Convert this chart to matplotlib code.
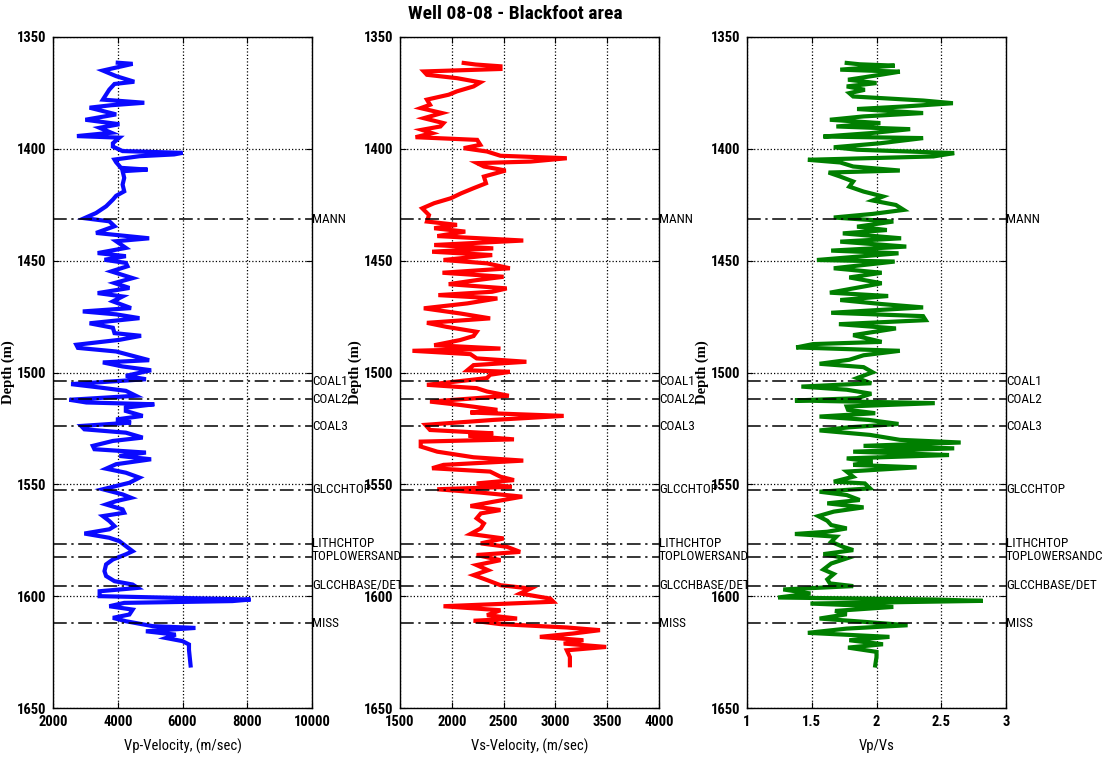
import matplotlib
matplotlib.use('Agg')
import matplotlib.pyplot as plt

narrow = ['Roboto Condensed', 'Liberation Sans Narrow', 'Liberation Sans', 'DejaVu Sans']

# formation tops (m)
tops = ['MANN', 'COAL1', 'COAL2', 'COAL3', 'GLCCHTOP', 'LITHCHTOP',
        'TOPLOWERSANDC', 'GLCCHBASE/DET', 'MISS']
top_depth = [1431.5, 1504, 1512, 1524, 1552.5, 1576.6, 1582.3, 1595.3, 1612]

# Vp log
vp_depth = [1361.5, 1362, 1363, 1365, 1367.5, 1370, 1371, 1373.5, 1378, 1379.4, 1380.5, 1381.6,
            1384.6, 1387, 1389, 1390.6, 1392.8, 1394.3, 1395, 1397.5, 1399, 1401, 1401.8, 1402.5,
            1403.3, 1404.8, 1406, 1408.5, 1409.3, 1410, 1413, 1416, 1419, 1421, 1422.7, 1425.7,
            1428.7, 1431, 1432.4, 1434.6, 1437.6, 1440, 1441.3, 1444.3, 1446.6, 1448, 1449.6, 1451,
            1452.5, 1454.8, 1457.8, 1460, 1462.2, 1464.5, 1466, 1468.2, 1471.2, 1472.7, 1474, 1475.7,
            1478, 1480, 1482.4, 1483.6, 1485.4, 1487.6, 1489, 1490.6, 1494.5, 1495.5, 1497.3, 1499,
            1501.5, 1503, 1505.2, 1506.7, 1508.2, 1510.4, 1512.2, 1513.4, 1514.2, 1515.7, 1517.2, 1519.4,
            1521, 1522.4, 1523.9, 1525.4, 1526.9, 1529.1, 1530.6, 1532.8, 1534.3, 1535.8, 1537.3, 1538.8,
            1541, 1543, 1544.8, 1547, 1549.3, 1552.2, 1554.5, 1556, 1557.5, 1559, 1561.2, 1562.7,
            1564.2, 1566.4, 1568.7, 1570.1, 1572, 1573.9, 1575.4, 1577.6, 1579.9, 1581.3, 1583.6, 1585.8,
            1588.8, 1591, 1593.3, 1594.8, 1596.3, 1597.8, 1600, 1601.5, 1602.2, 1603, 1604.5, 1606,
            1608.2, 1609.7, 1611.2, 1613.4, 1614.2, 1615.7, 1617.2, 1618.7, 1620.1, 1621.6, 1624, 1631]
vp = [4000, 4460, 4150, 3540, 3950, 4510, 3900, 3740, 3540, 4820, 3800, 3130,
      3950, 3000, 4050, 3440, 3800, 2740, 4050, 3850, 3850, 4150, 6000, 5740,
      4670, 3900, 3950, 4100, 4920, 4150, 4200, 4150, 4200, 3950, 3850, 3640,
      3330, 2970, 3740, 3900, 3330, 4970, 3950, 4250, 3380, 4250, 3590, 4250,
      4300, 3800, 4460, 3900, 4360, 3380, 4150, 3850, 4410, 2920, 3950, 4670,
      3130, 3850, 3900, 4720, 4050, 2720, 2770, 3950, 4970, 3540, 4150, 5030,
      4250, 4870, 2560, 3440, 4250, 4560, 2510, 3030, 5130, 4250, 4250, 4770,
      3950, 4410, 2870, 2970, 4250, 4770, 3850, 3230, 3280, 4870, 4050, 5030,
      3950, 3640, 4250, 4670, 4360, 3540, 4150, 4410, 3950, 3640, 4150, 4200,
      3540, 3740, 3900, 3740, 2970, 3740, 4050, 4250, 4460, 4250, 3850, 3640,
      3590, 3640, 3900, 4460, 4620, 3440, 3440, 8100, 7540, 4200, 3740, 4460,
      4360, 3850, 4250, 5080, 6400, 4870, 5790, 5490, 6000, 6200, 6200, 6250]

# Vs log
vs_depth = [1361.6, 1362.3, 1363.1, 1364.3, 1365.4, 1366.9, 1368.4, 1370.3, 1372.1, 1374.3, 1375.8, 1378,
            1380.3, 1381.8, 1384, 1386.3, 1388.5, 1390, 1391.5, 1393, 1394.8, 1396, 1398.2, 1399.7,
            1401.2, 1403.1, 1404.2, 1405.7, 1406.4, 1407.9, 1409.7, 1412.4, 1415.4, 1417.6, 1419.9, 1422.1,
            1424.3, 1426.6, 1429.6, 1432.5, 1434, 1435.5, 1437, 1439, 1441, 1443, 1444.5, 1446,
            1447.5, 1449.7, 1451.2, 1453.4, 1455.4, 1457.2, 1458.7, 1460.5, 1462.4, 1463.9, 1465.4, 1466.9,
            1469.1, 1471.3, 1473.6, 1475.8, 1477.8, 1479.6, 1481.8, 1483.7, 1485.5, 1487.8, 1489.3, 1490.3,
            1491.8, 1493.7, 1495.2, 1496.7, 1499, 1499.7, 1501, 1502.5, 1505.5, 1507, 1508.5, 1510.4,
            1513, 1514.5, 1516.7, 1517.9, 1519.4, 1521.2, 1523.4, 1525.7, 1527.2, 1528.3, 1529.9, 1530.9,
            1533.1, 1535.4, 1537.9, 1539.4, 1541.3, 1542.8, 1544.3, 1546.6, 1548.1, 1549.6, 1551.1, 1552.2,
            1553.7, 1555.5, 1557.8, 1559.7, 1561.5, 1563, 1565.2, 1567.5, 1569.7, 1572.2, 1574.2, 1576.4,
            1577.9, 1580.2, 1581.6, 1583.9, 1586.1, 1588.4, 1590.6, 1592.8, 1595.1, 1596.6, 1598.8, 1601.1,
            1602.5, 1604.5, 1606.3, 1608.5, 1610, 1611, 1612.5, 1614, 1615.2, 1616.7, 1618.2, 1619.7,
            1621.2, 1622.7, 1624.2, 1627.2, 1630.9]
vs = [2115, 2230, 2470, 2470, 1730, 1760, 2050, 2275, 2210, 2050, 1970, 1760,
      1790, 1700, 1905, 1730, 1920, 1890, 1710, 1810, 1650, 2245, 2275, 2115,
      2340, 2470, 3110, 2760, 2245, 2310, 2520, 2310, 2330, 2210, 2090, 1990,
      1830, 1715, 1780, 1760, 2050, 1830, 2130, 1860, 2690, 1830, 2400, 1810,
      2390, 1920, 2340, 2560, 1910, 2500, 2240, 1970, 2530, 2390, 1870, 2440,
      2150, 1730, 2080, 2370, 1760, 1950, 2240, 2210, 2080, 1830, 2470, 1620,
      2180, 2240, 2720, 2210, 2150, 2560, 2370, 2340, 1760, 2240, 2340, 2550,
      1790, 2080, 2440, 2180, 3080, 2400, 1745, 1790, 2400, 2160, 2600, 1700,
      1700, 1860, 2210, 2690, 1920, 1810, 2370, 2470, 2600, 2240, 2580, 1860,
      2280, 2680, 2400, 2180, 2470, 2280, 2240, 2310, 2280, 2180, 2500, 2280,
      2530, 2660, 2240, 2470, 2240, 2350, 2210, 2340, 2470, 2760, 2660, 2950,
      2980, 1920, 2470, 2340, 2630, 2210, 2470, 3110, 3430, 3170, 2850, 3270,
      3080, 3490, 3110, 3140, 3140]

# Vp/Vs ratio
vr_depth = [1361.6, 1362.2, 1362.8, 1364.6, 1365.5, 1366.9, 1369.1, 1370.6, 1372.1, 1373.6, 1375.1, 1376.6,
            1378.4, 1379.6, 1381, 1382.2, 1384, 1385.5, 1387, 1388.5, 1390, 1391.2, 1393, 1394.5,
            1395.2, 1397.5, 1399.3, 1400.4, 1401.9, 1403.4, 1404.9, 1406.1, 1407.9, 1409.7, 1410.6, 1412.4,
            1414.6, 1416.9, 1419.1, 1421.3, 1423.1, 1425.1, 1427.3, 1429.1, 1430.7, 1432.5, 1434.8, 1436.3,
            1437.8, 1440, 1441.5, 1443.7, 1445.5, 1446.7, 1449.7, 1450.4, 1453.4, 1455.4, 1457.5, 1460.1,
            1462.4, 1464.3, 1465.8, 1467.6, 1469.4, 1470.9, 1473.3, 1474.8, 1476.6, 1478.4, 1480.3, 1483.3,
            1486.3, 1487.3, 1488.8, 1490.3, 1492.3, 1494.3, 1496.1, 1497.6, 1499.9, 1502.5, 1504.8, 1506.3,
            1507.7, 1509.5, 1511.5, 1512.5, 1513.7, 1515.2, 1516.7, 1518.2, 1519.7, 1521.2, 1523, 1524.5,
            1525.9, 1527.9, 1530.1, 1531.3, 1532.8, 1533.9, 1535.4, 1536.9, 1538.4, 1539.9, 1541.3, 1542.4,
            1544.3, 1546.6, 1548.8, 1549.6, 1551.8, 1553.3, 1554.8, 1557, 1558.5, 1560.3, 1562.2, 1564.2,
            1566.3, 1568.2, 1569.7, 1571.2, 1572.2, 1573.4, 1575.7, 1577.9, 1579.4, 1581.2, 1583.1, 1585.4,
            1588.1, 1590.1, 1592.5, 1594.3, 1595.5, 1597, 1598.8, 1600.6, 1601.5, 1602.1, 1603.3, 1604.8,
            1606.6, 1608.1, 1610, 1611.5, 1613, 1614.5, 1616.4, 1618.2, 1619.7, 1621.5, 1623, 1624.9,
            1627.2, 1631]
vpvs = [1.77, 1.87, 2.14, 1.72, 2.18, 2.03, 1.78, 2.00, 1.77, 1.91, 1.79, 1.82,
        2.36, 2.59, 2.23, 1.85, 2.36, 1.90, 1.64, 2.03, 1.69, 2.26, 1.95, 1.59,
        2.36, 2.03, 1.67, 1.85, 2.60, 2.44, 1.47, 1.72, 1.82, 2.18, 1.63, 1.72,
        1.82, 1.79, 1.90, 2.05, 1.97, 2.15, 2.21, 1.97, 1.67, 2.13, 1.85, 2.08,
        1.74, 2.19, 1.72, 2.23, 1.65, 2.17, 1.54, 2.14, 1.67, 2.04, 1.79, 2.04,
        1.82, 1.64, 2.09, 1.72, 2.04, 2.36, 1.65, 2.36, 2.38, 1.71, 2.15, 1.82,
        2.04, 1.51, 1.38, 2.18, 1.90, 1.79, 1.56, 1.90, 1.97, 1.85, 1.96, 1.42,
        1.77, 1.96, 1.85, 1.37, 2.45, 1.77, 1.78, 1.99, 1.56, 1.94, 2.17, 1.79,
        1.56, 1.95, 2.18, 2.65, 1.90, 2.60, 1.82, 2.56, 1.77, 1.97, 1.82, 2.31,
        1.77, 1.82, 1.67, 1.91, 1.95, 1.56, 1.77, 1.87, 1.62, 1.90, 1.67, 1.55,
        1.62, 1.65, 1.77, 1.62, 1.37, 1.69, 1.65, 1.74, 1.82, 1.59, 1.77, 1.65,
        1.59, 1.67, 1.62, 1.64, 1.82, 1.28, 1.49, 1.24, 2.44, 2.82, 1.49, 2.13,
        1.68, 1.77, 1.56, 1.91, 2.24, 1.77, 1.47, 2.10, 1.79, 2.05, 1.78, 2.00,
        2.00, 1.99]

panels = [
    (vp_depth, vp, '#0a0aff', (2000, 10000), [2000, 4000, 6000, 8000, 10000], 'Vp-Velocity, (m/sec)'),
    (vs_depth, vs, '#ff0000', (1500, 4000), [1500, 2000, 2500, 3000, 3500, 4000], 'Vs-Velocity, (m/sec)'),
    (vr_depth, vpvs, '#007f00', (1, 3), [1, 1.5, 2, 2.5, 3], 'Vp/Vs'),
]

fig = plt.figure(figsize=(11.09, 7.59), dpi=100)
lefts = [53, 400, 747]

for left, (d, v, col, xlim, xt, xlab) in zip(lefts, panels):
    ax = fig.add_axes([left / 1109, 51 / 759, 259 / 1109, 671 / 759])
    ax.plot(v, d, color=col, lw=3.0, solid_joinstyle='miter')
    for name, z in zip(tops, top_depth):
        ax.axhline(z, color='black', lw=1.1, ls=(0, (9, 3, 1.5, 3)))
        ax.text(1.0, z, name, transform=ax.get_yaxis_transform(), ha='left', va='center',
                fontsize=9.5, family=narrow, fontstretch='condensed', clip_on=False)
    ax.set_xlim(xlim)
    ax.set_ylim(1650, 1350)
    ax.set_xticks(xt)
    ax.set_xticklabels([('%g' % t) for t in xt])
    ax.set_yticks([1350, 1400, 1450, 1500, 1550, 1600, 1650])
    ax.grid(True, color='black', ls=':', lw=0.9)
    ax.tick_params(direction='in', length=4, right=True, top=True, width=0.8, pad=5)
    for lab in ax.get_xticklabels() + ax.get_yticklabels():
        lab.set_family(narrow)
        lab.set_fontstretch('condensed')
        lab.set_fontweight('bold')
        lab.set_fontsize(10.5)
    ax.set_xlabel(xlab, family=narrow, fontstretch='condensed', fontsize=10.5, labelpad=7)
    ax.set_ylabel('Depth (m)', family=['Liberation Serif', 'DejaVu Serif'], fontweight='bold',
                  fontsize=10.5)
    ax.yaxis.set_label_coords(-38 / 259, 0.5)
    for s in ax.spines.values():
        s.set_linewidth(1.0)

fig.text(515 / 1109, 1 - 14 / 759, 'Well 08-08 - Blackfoot area', ha='center', va='center',
         family=narrow, fontstretch='condensed', fontweight='bold', fontsize=14)

fig.savefig('out.png', dpi=100)
